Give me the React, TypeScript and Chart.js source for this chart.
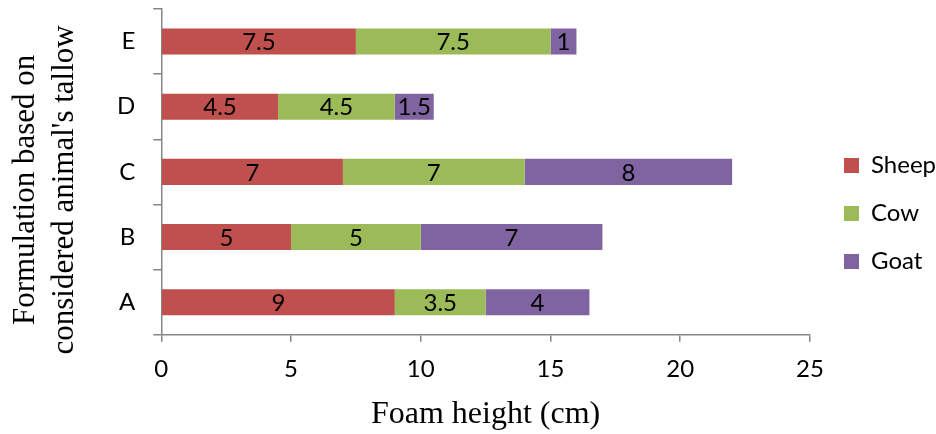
import React, { useEffect, useRef } from 'react';
import { Chart, registerables } from 'chart.js';
Chart.register(...registerables);

const categories = ['A', 'B', 'C', 'D', 'E'];
const seriesNames = ['Sheep', 'Cow', 'Goat'];
const sheep = [9, 5, 7, 4.5, 7.5];
const cow = [3.5, 5, 7, 4.5, 7.5];
const goat = [4, 7, 8, 1.5, 1];
const colors = ['#C0504D', '#9BBB59', '#8064A2'];
const xMin = 0;
const xMax = 25;
const xStep = 5;
const xTitle = 'Foam height (cm)';
const yTitle = ['Formulation based on', "considered animal's tallow"];

const SANS = 'Lato, "Open Sans", sans-serif';
const SERIF = '"Liberation Serif", "Times New Roman", serif';
const AXIS = '#868686';
const FS = 24;

const labelPlugin = {
  id: 'barLabels',
  afterDatasetsDraw(chart: any) {
    const ctx = chart.ctx;
    ctx.save();
    ctx.font = `${FS}px ${SANS}`;
    ctx.fillStyle = '#000';
    ctx.textAlign = 'center';
    ctx.textBaseline = 'middle';
    chart.data.datasets.forEach((ds: any, i: number) => {
      const meta = chart.getDatasetMeta(i);
      meta.data.forEach((el: any, j: number) => {
        const p = el.getCenterPoint();
        ctx.fillText(String(ds.data[j]), p.x, p.y + 1);
      });
    });
    ctx.restore();
  },
};

// y-axis title (two lines, rotated), drawn beside the y scale
const yTitlePlugin = {
  id: 'yTitle',
  afterDraw(chart: any) {
    const ctx = chart.ctx;
    const area = chart.chartArea;
    const cy = (area.top + area.bottom) / 2 + 18;
    const baselines = [34, 73];
    ctx.save();
    ctx.font = `31px ${SERIF}`;
    ctx.fillStyle = '#000';
    ctx.textAlign = 'center';
    ctx.textBaseline = 'alphabetic';
    yTitle.forEach((line, i) => {
      ctx.save();
      ctx.translate(baselines[i], cy);
      ctx.rotate(-Math.PI / 2);
      ctx.fillText(line, 0, 0);
      ctx.restore();
    });
    ctx.restore();
  },
};

// nudge the legend box to sit where the reference has it
const legendShift = {
  id: 'legendShift',
  afterLayout(chart: any) {
    const lg = chart.legend;
    if (!lg) return;
    lg.left += 10;
    lg.right += 10;
    lg.top -= 8;
    lg.bottom -= 8;
  },
};

export default function App() {
  const ref = useRef<HTMLCanvasElement>(null);
  useEffect(() => {
    document.body.style.margin = '0';
    const chart = new Chart(ref.current!, {
      type: 'bar',
      data: {
        labels: categories,
        datasets: [sheep, cow, goat].map((d, i) => ({
          label: seriesNames[i],
          data: d,
          backgroundColor: colors[i],
          borderWidth: 0,
          barPercentage: 0.4,
          categoryPercentage: 1,
        })),
      },
      options: {
        indexAxis: 'y',
        animation: false,
        responsive: false,
        maintainAspectRatio: false,
        layout: { padding: { top: 9, left: 99, right: 0, bottom: 0 } },
        plugins: {
          tooltip: { enabled: false },
          legend: {
            position: 'right',
            labels: {
              font: { family: SANS, size: FS },
              color: '#000',
              boxWidth: 15,
              boxHeight: 15,
              padding: 24,
            },
          },
        },
        scales: {
          x: {
            stacked: true,
            min: xMin,
            max: xMax,
            ticks: {
              stepSize: xStep,
              color: '#000',
              font: { family: SANS, size: FS },
              padding: 13,
            },
            grid: {
              drawOnChartArea: false,
              drawTicks: true,
              tickLength: 7,
              color: AXIS,
              lineWidth: 1.5,
            },
            border: { color: AXIS, width: 1.5 },
            title: {
              display: true,
              text: xTitle,
              color: '#000',
              font: { family: SERIF, size: 32 },
              padding: { top: -1, bottom: 0 },
            },
          },
          y: {
            stacked: true,
            reverse: true,
            afterFit(scale: any) {
              scale.paddingTop = 0;
              scale.paddingBottom = 0;
            },
            ticks: {
              color: '#000',
              font: { family: SANS, size: FS },
              padding: 18,
            },
            grid: {
              drawOnChartArea: false,
              drawTicks: true,
              tickLength: 8,
              color: AXIS,
              lineWidth: 1.5,
              offset: true,
            },
            border: { color: AXIS, width: 1.5 },
            title: { display: false },
          },
        },
      },
      plugins: [labelPlugin, yTitlePlugin, legendShift],
    });
    return () => chart.destroy();
  }, []);
  return (
    <div style={{ width: 936, height: 434 }}>
      <canvas ref={ref} width={936} height={434} style={{ display: 'block' }} />
    </div>
  );
}
